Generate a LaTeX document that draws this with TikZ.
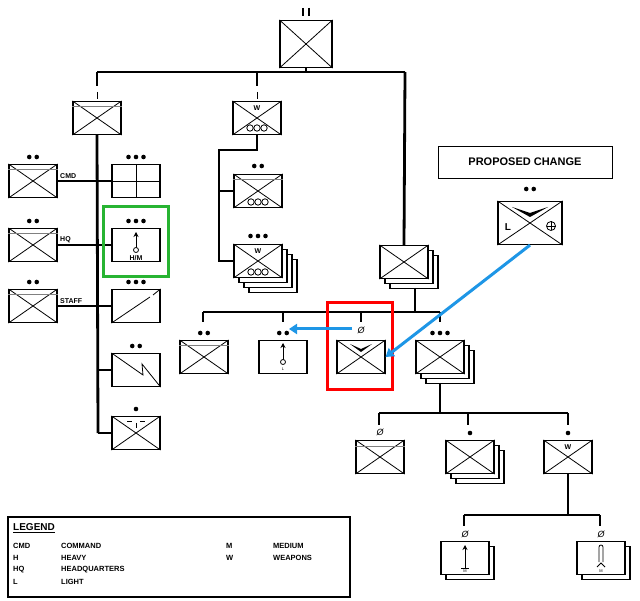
\documentclass[tikz,border=0pt]{standalone}
\usepackage{fontspec}
\setmainfont{Liberation Sans}
\usetikzlibrary{arrows.meta}
\definecolor{blu}{RGB}{30,150,230}
\definecolor{grn}{RGB}{40,180,50}
\tikzset{
 ub/.style={draw,line width=1.2pt,fill=white,minimum width=48pt,minimum height=33pt,inner sep=0pt},
 conn/.style={line width=2.8pt},
 sym/.style={line width=0.8pt},
 lbl/.style={font=\bfseries\fontsize{7}{8}\selectfont,inner sep=1pt},
 blue arrow/.style={draw=blu,line width=3pt,-{Triangle[length=8pt,width=10pt]}},
}
\newcommand\UB[4][]{\node[ub,#1] (#2) at (#3,#4) {};}
\newcommand\UX[1]{\draw[sym] (#1.north west)--(#1.south east) (#1.north east)--(#1.south west);}
\newcommand\UG[1]{\draw[gray,line width=0.8pt] ([yshift=-6pt]#1.north west)--([yshift=-6pt]#1.north east);}
\newcommand\STK[4]{\foreach \k in {#4,...,1}{\node[ub] at (#2+5*\k,#3+5*\k) {};}}
\newcommand\DTS[3]{\foreach \k in {1,...,#1}{\fill (#2+7.5*\k-3.75*#1-3.75,#3) circle (2.3pt);}}
\newcommand\CRW[2]{\node[font=\itshape\fontsize{9}{9}\selectfont] at (#1,#2) {\O};}
\begin{document}
\begin{tikzpicture}[x=1pt,y=-1pt]
\useasboundingbox (0,0) rectangle (640,601);
% top
\UB[minimum width=52pt,minimum height=47pt]{top}{306}{44}\UX{top}
\draw[line width=1.2pt] (303,8)--(303,16) (309,8)--(309,16);
\coordinate (barL) at (97,72); \coordinate (barR) at (405,72);
\draw[conn] (top.south)--(306,72);
\draw[conn] (barL)--(barR);
% company A
\UB{A}{97}{118}\UX{A}\UG{A}
\draw[conn] (barL)--(97,86); \draw[line width=1pt] (97,92)--(97,99);
% W company
\UB{W}{257}{118}\UX{W}
\node[lbl,fill=white] at (257,108) {W};
\foreach \i in {-1,0,1}{\draw[line width=0.8pt,fill=white] (257+7*\i,128) circle (3.2pt);}
\draw[conn] (257,72)--(257,86); \draw[line width=1pt] (257,92)--(257,99);
% spine
\coordinate (spB) at (98,433);
\draw[conn] (A.south)--(spB);
% left column
\foreach \n/\y/\t in {cmd/181/CMD,hq/245/HQ,stf/306/STAFF}{
 \UB{\n}{33}{\y}\UX{\n}\UG{\n}
 \DTS{2}{33}{\y-24}
 \draw[conn] (\n.east)--(98,\y);
 \node[lbl,anchor=south west] at (59,\y-1) {\t};
}
% right column
\UB{r1}{136}{181}\draw[sym] (r1.north)--(r1.south) (r1.west)--(r1.east);
\UB{r2}{136}{245}
\draw[line width=1pt,-{Stealth[length=5pt,width=5pt]}] (136,250)--(136,232);
\draw[sym,fill=white] (136,250) circle (2.5pt);
\node[lbl] at (136,258) {H/M};
\UB{r3}{136}{306}\draw[sym] (r3.south west)--(150,297) (153,295)--(r3.north east);
\UB{r4}{136}{370}\draw[sym] (r4.north west)--(143,375)--(142,364)--(r4.south east);
\UB{r5}{136}{433}\UX{r5}
\draw[sym] (127,421)--(132,421) (140,421)--(145,421) (136,423)--(136,428);
\foreach \n/\y/\d in {r1/181/3,r2/245/3,r3/306/3,r4/370/2,r5/433/1}{
 \DTS{\d}{136}{\y-24}
 \draw[conn] (98,\y)--(\n.west);
}
\draw[grn,line width=3pt] (103,207) rectangle (168,277);
% W column
\UB{w1}{258}{191}\UX{w1}\UG{w1}
\foreach \i in {-1,0,1}{\draw[line width=0.8pt,fill=white] (258+7*\i,202) circle (3.2pt);}
\DTS{2}{258}{166}
\STK{w2}{258}{261}{3}
\UB{w2}{258}{261}\UX{w2}
\node[lbl,fill=white] at (258,251) {W};
\foreach \i in {-1,0,1}{\draw[line width=0.8pt,fill=white] (258+7*\i,272) circle (3.2pt);}
\DTS{3}{258}{236}
\draw[conn] (W.south)--(257,150)--(219,150)--(219,261)--(w2.west);
\draw[conn] (219,191)--(w1.west);
% second company stack
\STK{B}{404}{262}{2}
\UB{B}{404}{262}\UX{B}
\draw[conn] (barR)--(B.north);
\coordinate (b2L) at (203,312); \coordinate (b2R) at (440,312);
\draw[conn] (415,288)--(415,312);
\draw[conn] (b2L)--(b2R);
\UB{p1}{204}{357}\UX{p1}\UG{p1}\DTS{2}{204}{333}
\UB{p2}{283}{357}\DTS{2}{283}{333}
\draw[line width=1pt,-{Stealth[length=5pt,width=5pt]}] (283,362)--(283,343);
\draw[sym,fill=white] (283,362) circle (2.5pt);
\node[font=\fontsize{4}{4}\selectfont] at (283,369) {L};
\UB{p3}{361}{357}\UX{p3}\CRW{361}{330}
\fill (350,344)--(361,352)--(372,344)--(361,349)--cycle;
\STK{p4}{440}{357}{2}
\UB{p4}{440}{357}\UX{p4}\DTS{3}{440}{333}
\foreach \n/\x in {p1/203,p2/283,p3/361,p4/440}{\draw[conn] (\x,312)--(\x,322);}
\draw[red,line width=3pt] (327,303) rectangle (392,390);
% platoon level
\coordinate (b3L) at (379,413); \coordinate (b3R) at (568,413);
\draw[conn] (440,383)--(440,413);
\draw[conn] (b3L)--(b3R);
\UB{q1}{380}{457}\UX{q1}\UG{q1}\CRW{380}{432}
\STK{q2}{470}{457}{2}
\UB{q2}{470}{457}\UX{q2}\DTS{1}{470}{433}
\UB{q3}{568}{457}\UX{q3}\DTS{1}{568}{433}
\node[lbl,fill=white] at (568,447) {W};
\foreach \x in {379,468,568}{\draw[conn] (\x,413)--(\x,425);}
% weapons squads
\coordinate (b4L) at (464,515); \coordinate (b4R) at (600,515);
\draw[conn] (q3.south)--(568,515);
\draw[conn] (b4L)--(b4R);
\STK{s1}{465}{558}{1}
\UB{s1}{465}{558}\CRW{465}{534}
\draw[line width=1pt,-{Stealth[length=5pt,width=5pt]}] (465,568)--(465,545);
\draw[sym] (461,568)--(469,568);
\node[font=\fontsize{4}{4}\selectfont] at (465,571) {M};
\STK{s2}{601}{558}{1}
\UB{s2}{601}{558}\CRW{601}{534}
\draw[sym] (599,562)--(599,547) arc (180:0:2pt)--(603,562);
\draw[sym] (597,567)--(601,563)--(605,567);
\node[font=\fontsize{4}{4}\selectfont] at (601,571) {M};
\foreach \x in {464,600}{\draw[conn] (\x,515)--(\x,526);}
% proposed change
\node[draw,line width=0.8pt,minimum width=174pt,minimum height=32pt,font=\bfseries\fontsize{11}{13}\selectfont] (pc) at (525,162) {PROPOSED CHANGE};
\node[ub,minimum width=64pt,minimum height=43pt] (new) at (530,223) {};\UX{new}
\DTS{2}{530}{189}
\fill (512,207)--(530,217)--(548,207)--(530,213)--cycle;
\node[font=\bfseries\fontsize{10}{10}\selectfont,fill=white,inner sep=1pt] at (508,227) {L};
\draw[sym,fill=white] (551,226) circle (4.5pt);
\draw[sym] (546.5,226)--(555.5,226) (551,221.5)--(551,230.5);
\draw[blue arrow] (new.south)--(p3.east);
\draw[blue arrow] (352,329)--(289,329);
% legend
\node[draw,line width=1.5pt,minimum width=342pt,minimum height=80pt] (leg) at (179,557) {};
\node[anchor=west,font=\bfseries\fontsize{10}{11}\selectfont,inner sep=0pt] at (13,528) {\underline{LEGEND}};
\begin{scope}[every node/.style={lbl,anchor=west,font=\bfseries\fontsize{7.5}{8}\selectfont}]
\node at (12,546) {CMD}; \node at (60,546) {COMMAND};
\node at (12,558) {H}; \node at (60,558) {HEAVY};
\node at (12,570) {HQ}; \node at (60,570) {HEADQUARTERS};
\node at (12,582) {L}; \node at (60,582) {LIGHT};
\node at (225,546) {M}; \node at (272,546) {MEDIUM};
\node at (225,558) {W}; \node at (272,558) {WEAPONS};
\end{scope}
\end{tikzpicture}
\end{document}
